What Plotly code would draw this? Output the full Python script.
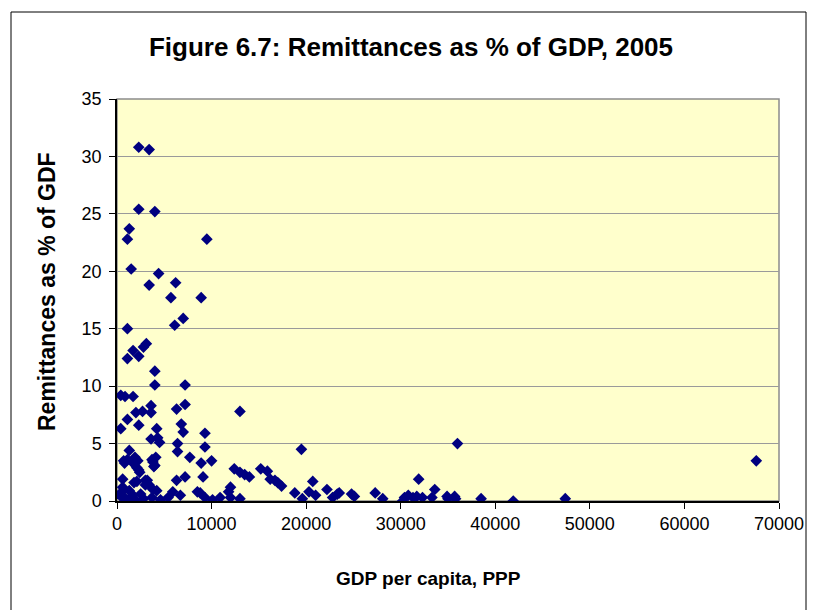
import plotly.graph_objects as go

# GDP per capita (PPP) and remittances as % of GDP
gdp_pc = [
    2300, 3400, 2300, 4000, 1300, 1100, 9500, 1500, 4400, 3400,
    6200, 5700, 8900, 7000, 6100, 1100, 3100, 2800, 1700, 2300,
    1100, 4000, 4000, 7200, 400, 850, 1700, 3600, 7200, 2700,
    2000, 6300, 3600, 13000, 1100, 6800, 2300, 7000, 400, 4200,
    9300, 3600, 4300, 4500, 36000, 6400, 6400, 9300, 1300, 19500,
    7700, 10000, 4100, 3700, 700, 8900, 1900, 2200, 2300, 3900,
    12400, 13000, 13500, 14000, 15200, 15900, 16200, 16700, 17000, 17400,
    7200, 9100, 600, 3200, 6300, 3400, 600, 1800, 12000, 11800,
    20700, 31900, 33600, 22200, 18800, 19600, 20300, 21000, 22800, 23300,
    23500, 24800, 25100, 27300, 28100, 30200, 30400, 30800, 31300, 31700,
    32300, 33300, 34900, 35000, 35700, 35800, 38500, 41900, 47400, 67600,
    1100, 800, 1700, 2100, 2400, 3800, 4000, 2100, 3000, 3000,
    500, 600, 1200, 1700, 1900, 3800, 3700, 4600, 5400, 5900,
    6700, 300, 900, 1300, 2500, 2800, 8500, 8800, 9300, 10100,
    10900, 12000, 13000, 4200,
]
remit_pct = [
    30.8, 30.6, 25.4, 25.2, 23.7, 22.8, 22.8, 20.2, 19.8, 18.8,
    19.0, 17.7, 17.7, 15.9, 15.3, 15.0, 13.7, 13.4, 13.1, 12.6,
    12.4, 11.3, 10.1, 10.1, 9.2, 9.1, 9.1, 8.3, 8.4, 7.8,
    7.7, 8.0, 7.7, 7.8, 7.1, 6.7, 6.6, 6.0, 6.3, 6.3,
    5.9, 5.4, 5.5, 5.1, 5.0, 5.0, 4.3, 4.7, 4.4, 4.5,
    3.8, 3.5, 3.8, 3.6, 3.5, 3.3, 3.8, 3.5, 2.7, 3.0,
    2.8, 2.5, 2.3, 2.1, 2.8, 2.6, 1.9, 1.8, 1.6, 1.3,
    2.1, 2.1, 1.9, 1.8, 1.8, 1.4, 1.2, 1.6, 1.2, 0.8,
    1.7, 1.9, 1.0, 1.0, 0.7, 0.2, 0.8, 0.5, 0.3, 0.6,
    0.7, 0.6, 0.4, 0.7, 0.2, 0.0, 0.3, 0.5, 0.3, 0.4,
    0.3, 0.3, 0.4, 0.2, 0.4, 0.2, 0.2, 0.0, 0.2, 3.5,
    3.6, 3.3, 3.3, 2.9, 2.5, 3.4, 3.1, 1.7, 1.8, 1.4,
    0.8, 0.3, 0.1, 0.5, 0.1, 1.0, 0.3, 0.1, 0.3, 0.8,
    0.5, 0.5, 0.2, 0.9, 0.6, 0.2, 0.8, 0.7, 0.3, 0.1,
    0.3, 0.3, 0.2, 0.9,
]

x_tick_vals = [0, 10000, 20000, 30000, 40000, 50000, 60000, 70000]
x_tick_text = ["0", "10000", "20000", "30000", "40000", "50000", "60000", "70000"]
y_tick_vals = [0, 5, 10, 15, 20, 25, 30, 35]

title_text = "Figure 6.7: Remittances as % of GDP, 2005"
x_title = "GDP per capita, PPP"
y_title = "Remittances as % of GDF"

FONT = "Liberation Sans, Arial, sans-serif"

fig = go.Figure(
    go.Scatter(
        x=gdp_pc, y=remit_pct, mode="markers",
        marker=dict(symbol="diamond", size=9, color="#000080", line=dict(width=0)),
        showlegend=False, hoverinfo="x+y",
    )
)

# page body has an 8px margin; figure sized so it fits the 819x610 window
OFF = 8
W, H = 811, 602
# plot area in screen pixels
PX0, PX1, PY0, PY1 = 117, 779, 99, 501
L, R = PX0 - OFF, W - (PX1 - OFF)
T, B = PY0 - OFF, H - (PY1 - OFF)
pw, ph = PX1 - PX0, PY1 - PY0

def px_to_paper_x(px):
    return (px - PX0) / pw

def px_to_paper_y(py):
    return (PY1 - py) / ph

fig.update_layout(
    width=W, height=H,
    margin=dict(l=L, r=R, t=T, b=B, pad=0),
    paper_bgcolor="white",
    plot_bgcolor="#FFFFCC",
    font=dict(family=FONT, color="black", size=18),
    title=dict(
        text="<b>" + title_text + "</b>",
        x=(411 - OFF) / W, xref="container", xanchor="center",
        y=1 - (47 - OFF) / H, yref="container", yanchor="middle",
        font=dict(family=FONT, size=26, color="black"),
    ),
    xaxis=dict(
        range=[0, 70000], tickmode="array", tickvals=x_tick_vals, ticktext=x_tick_text,
        showgrid=False, zeroline=False,
        showline=True, linecolor="black", linewidth=1.5,
        ticks="outside", ticklen=6, tickcolor="black", tickwidth=1,
        tickfont=dict(family=FONT, size=18, color="black"),
        fixedrange=True,
    ),
    yaxis=dict(
        range=[0, 35], tickmode="array", tickvals=y_tick_vals,
        showgrid=True, gridcolor="#9a9a9a", gridwidth=1.2,
        zeroline=False,
        showline=True, linecolor="black", linewidth=1.5,
        ticks="outside", ticklen=6, tickcolor="black", tickwidth=1,
        ticklabelstandoff=4,
        tickfont=dict(family=FONT, size=18, color="black"),
        fixedrange=True,
    ),
    shapes=[
        dict(type="rect", xref="paper", yref="paper", x0=0, x1=1, y0=0, y1=1,
             line=dict(color="#8c8c8c", width=1.5), layer="below"),
        dict(type="rect", xref="paper", yref="paper",
             x0=px_to_paper_x(11), x1=px_to_paper_x(806),
             y0=px_to_paper_y(640), y1=px_to_paper_y(12),
             line=dict(color="black", width=1), layer="below"),
    ],
    annotations=[
        dict(text="<b>" + x_title + "</b>", xref="paper", yref="paper",
             x=px_to_paper_x(428), y=px_to_paper_y(578),
             xanchor="center", yanchor="middle", showarrow=False,
             font=dict(family=FONT, size=19, color="black")),
        dict(text="<b>" + y_title + "</b>", xref="paper", yref="paper",
             x=px_to_paper_x(47), y=px_to_paper_y(292), textangle=-90,
             xanchor="center", yanchor="middle", showarrow=False,
             font=dict(family=FONT, size=23, color="black")),
    ],
)

fig.write_html("out.html")
